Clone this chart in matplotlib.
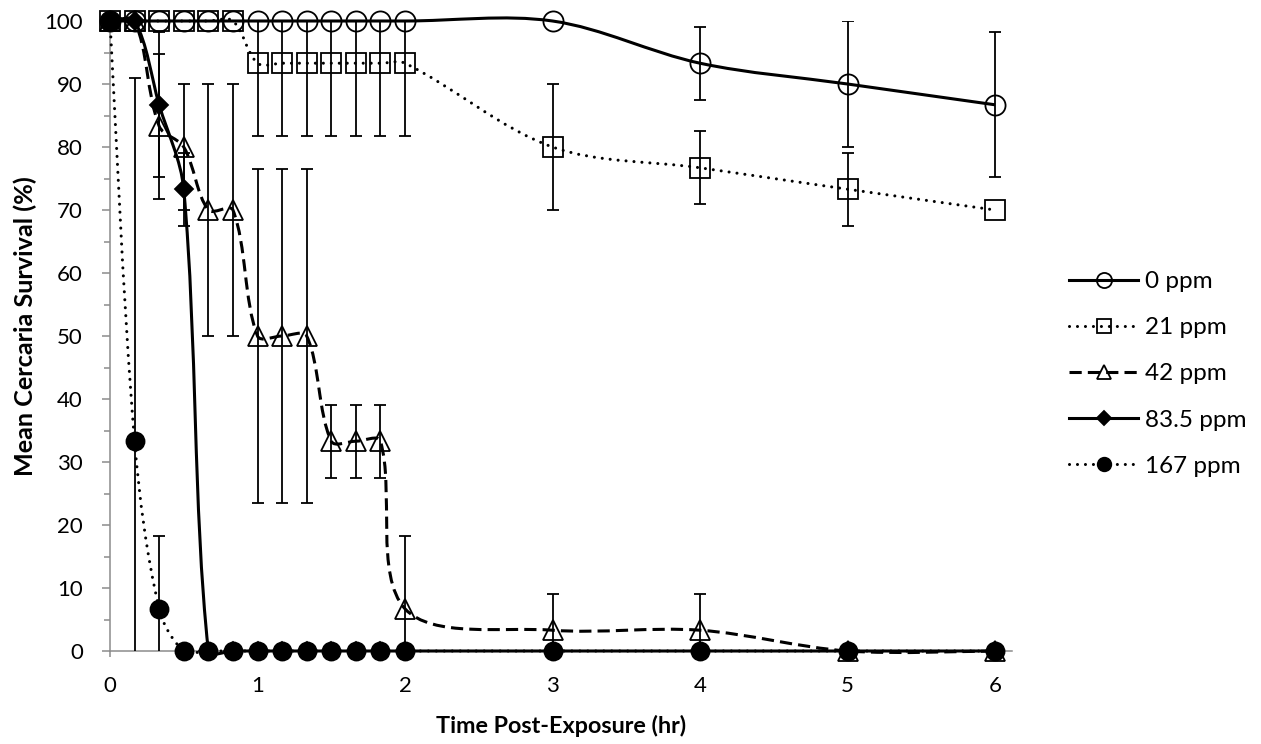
import numpy as np
import matplotlib
matplotlib.use('Agg')
from matplotlib import pyplot as plt
from matplotlib.path import Path
from matplotlib.patches import PathPatch
from matplotlib.lines import Line2D
from matplotlib.ticker import MultipleLocator

# sampling times (hr): every 10 min for the first 2 hr, then hourly
time_hr = [0, 1/6, 2/6, 3/6, 4/6, 5/6, 1, 7/6, 8/6, 9/6, 10/6, 11/6, 2, 3, 4, 5, 6]

# mean survival (%) and error bar half widths per concentration
surv_0 = [100, 100, 100, 100, 100, 100, 100, 100, 100, 100, 100, 100, 100, 100, 93.3, 90, 86.7]
err_0 = [0, 0, 0, 0, 0, 0, 0, 0, 0, 0, 0, 0, 0, 0, 5.8, 10, 11.5]
surv_21 = [100, 100, 100, 100, 100, 100, 93.3, 93.3, 93.3, 93.3, 93.3, 93.3, 93.3, 80, 76.7, 73.3, 70]
err_21 = [0, 0, 0, 0, 0, 0, 11.5, 11.5, 11.5, 11.5, 11.5, 11.5, 11.5, 10, 5.8, 5.8, 0]
surv_42 = [100, 100, 83.3, 80, 70, 70, 50, 50, 50, 33.3, 33.3, 33.3, 6.7, 3.3, 3.3, 0, 0]
err_42 = [0, 0, 11.5, 10, 20, 20, 26.5, 26.5, 26.5, 5.8, 5.8, 5.8, 11.5, 5.8, 5.8, 0, 0]
surv_835 = [100, 100, 86.7, 73.3, 0, 0, 0, 0, 0, 0, 0, 0, 0, 0, 0, 0, 0]
err_835 = [0, 0, 11.5, 5.8, 0, 0, 0, 0, 0, 0, 0, 0, 0, 0, 0, 0, 0]
surv_167 = [100, 33.3, 6.7, 0, 0, 0, 0, 0, 0, 0, 0, 0, 0, 0, 0, 0, 0]
err_167 = [0, 57.7, 11.5, 0, 0, 0, 0, 0, 0, 0, 0, 0, 0, 0, 0, 0, 0]

labels = ['0 ppm', '21 ppm', '42 ppm', '83.5 ppm', '167 ppm']

DOT = (0, (0.01, 2.6))
DASH = (0, (4, 2))
GREY = '#8c8c8c'

plt.rcParams['font.family'] = ['Lato', 'DejaVu Sans']


def smooth_path(ax, xs, ys):
    # excel style smoothed line: bezier segments, tangent from the two
    # neighbours, arm length scaled by the pixel length of its own segment
    pts = ax.transData.transform(np.column_stack([xs, ys]))
    n = len(pts)
    seg = np.hypot(*np.diff(pts, axis=0).T)
    out_arm = np.zeros_like(pts)
    in_arm = np.zeros_like(pts)
    for k in range(n):
        tan = (pts[min(k + 1, n - 1)] - pts[max(k - 1, 0)]) / 6
        dp = seg[k - 1] if k > 0 else 0
        dn = seg[k] if k < n - 1 else 0
        if k == 0 or k == n - 1 or dp + dn == 0:
            out_arm[k] = tan
            in_arm[k] = tan
        else:
            out_arm[k] = tan * 2 * dn / (dp + dn)
            in_arm[k] = tan * 2 * dp / (dp + dn)
    verts = [pts[0]]
    for i in range(n - 1):
        verts += [pts[i] + out_arm[i], pts[i + 1] - in_arm[i + 1], pts[i + 1]]
    verts = ax.transData.inverted().transform(np.array(verts))
    codes = [Path.MOVETO] + [Path.CURVE4] * (3 * (n - 1))
    return Path(verts, codes)


fig = plt.figure(figsize=(12.61, 7.44), dpi=100)
ax = fig.add_axes([110 / 1261, 1 - 651 / 744, 902 / 1261, 630 / 744])
ax.set_xlim(0, 6.115)
ax.set_ylim(0, 100)

series = [
    # values, errors, linestyle, marker, marker size, filled
    (surv_0, err_0, '-', 'o', 14.5, False),
    (surv_21, err_21, DOT, 's', 14, False),
    (surv_42, err_42, DASH, '^', 14, False),
    (surv_835, err_835, '-', 'D', 9.5, True),
    (surv_167, err_167, DOT, 'o', 13, True),
]

handles = []
for i, (vals, errs, ls, mk, ms, filled) in enumerate(series):
    z = 3 + i
    patch = PathPatch(smooth_path(ax, time_hr, vals), fill=False, edgecolor='black',
                      linewidth=2.2, linestyle=ls, capstyle='round' if ls is DOT else 'butt',
                      joinstyle='round', clip_on=False, zorder=z)
    ax.add_patch(patch)
    # only draw the bars where there is a spread
    t = np.array(time_hr)
    v = np.array(vals)
    e = np.array(errs)
    m = e > 0
    if m.any():
        ax.errorbar(t[m], v[m], yerr=e[m], fmt='none', ecolor='black', elinewidth=1.3,
                    capsize=4.3, capthick=1.3, zorder=z)
    fc = 'black' if filled else 'none'
    ax.plot(time_hr, vals, linestyle='none', marker=mk, markersize=ms, markerfacecolor=fc,
            markeredgecolor='black', markeredgewidth=1.3, clip_on=False, zorder=z + 0.5)
    handles.append(Line2D([], [], color='black', linewidth=2.2, linestyle=ls,
                          dash_capstyle='round' if ls is DOT else 'butt', marker=mk,
                          markersize=ms * 0.75, markerfacecolor=fc, markeredgecolor='black',
                          markeredgewidth=1.3))

ax.xaxis.set_major_locator(MultipleLocator(1))
ax.yaxis.set_major_locator(MultipleLocator(10))
ax.yaxis.set_minor_locator(MultipleLocator(5))
for side in ['top', 'right']:
    ax.spines[side].set_visible(False)
for side in ['left', 'bottom']:
    ax.spines[side].set_color(GREY)
    ax.spines[side].set_linewidth(1.1)
ax.tick_params(axis='both', which='both', color=GREY, width=1.1, labelsize=16)
ax.tick_params(axis='y', which='major', length=5.5, pad=14)
ax.tick_params(axis='y', which='minor', length=4.3)
ax.tick_params(axis='x', which='major', length=4.3, pad=14)

ax.set_xlabel('Time Post-Exposure (hr)', fontsize=16.8, fontweight='bold')
ax.set_ylabel('Mean Cercaria Survival (%)', fontsize=18.2, fontweight='bold')
ax.xaxis.set_label_coords(0.5, (651 - 726) / 630)
ax.xaxis.label.set_va('center')
ax.yaxis.set_label_coords((25 - 110) / 902, (651 - 326) / 630)
ax.yaxis.label.set_va('center')

fig.legend(handles, labels, loc='upper left', bbox_to_anchor=(1069 / 1261, 1 - 271 / 744),
           frameon=False, fontsize=17.5, handlelength=2.85, handletextpad=0.29,
           labelspacing=1.035, borderpad=0, borderaxespad=0)

fig.savefig('out.png', dpi=100)
